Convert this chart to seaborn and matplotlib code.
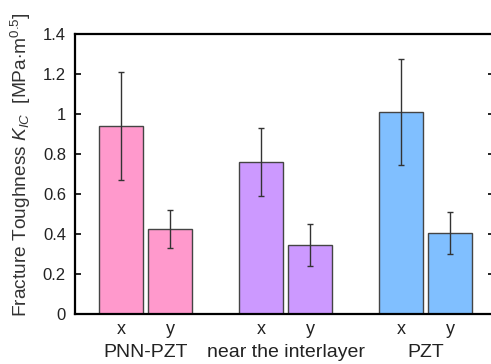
import numpy as np
import pandas as pd
import matplotlib
matplotlib.use("Agg")
import matplotlib.pyplot as plt
import matplotlib.transforms as mtransforms
import seaborn as sns

# Data
groups = ["PNN-PZT", "near the interlayer", "PZT"]
directions = ["x", "y"]
kic_mean = [0.94, 0.425, 0.76, 0.345, 1.01, 0.405]
kic_err = [0.27, 0.095, 0.17, 0.105, 0.265, 0.105]
group_colors = ["#ff99cc", "#cc99ff", "#80bfff"]

# Layout: spacing between group centres, in units of the bar step
group_step = 2.83

rows = []
for gi, g in enumerate(groups):
    for di, d in enumerate(directions):
        rows.append({"group": g, "dir": d, "pos": gi * group_step + di,
                     "kic": kic_mean[gi * 2 + di], "err": kic_err[gi * 2 + di]})
df = pd.DataFrame(rows)

sns.set_style("ticks")
plt.rcParams["font.family"] = ["Liberation Sans", "DejaVu Sans"]
plt.rcParams["mathtext.fontset"] = "custom"
plt.rcParams["mathtext.rm"] = "Liberation Sans"
plt.rcParams["mathtext.it"] = "Liberation Sans:italic"

fig = plt.figure(figsize=(4.91, 3.64), dpi=100)
ax = fig.add_axes([75 / 491, 1 - 314 / 364, 419 / 491, 280 / 364])

sns.barplot(data=df, x="pos", y="kic", hue="group", palette=group_colors,
            native_scale=True, width=0.89, saturation=1, legend=False,
            edgecolor="#444444", linewidth=1.0, ax=ax)
ax.errorbar(df["pos"], df["kic"], yerr=df["err"], fmt="none",
            ecolor="#333333", elinewidth=1.0, capsize=2.3, capthick=1.0)

ax.set_xlim(-0.93, 7.54)
ax.set_ylim(0, 1.4)
ax.set_yticks(np.arange(0, 1.41, 0.2))
ax.set_yticklabels(["0", "0.2", "0.4", "0.6", "0.8", "1", "1.2", "1.4"])
ax.set_xticks(df["pos"])
ax.set_xticklabels(df["dir"])
ax.tick_params(axis="y", direction="in", length=4, width=1.2, labelsize=12,
               pad=6.5, right=True, colors="black", labelcolor="#222222")
ax.tick_params(axis="x", length=0, labelsize=13, pad=5, labelcolor="#222222")
for s in ax.spines.values():
    s.set_linewidth(1.6)
    s.set_color("black")

trans = mtransforms.blended_transform_factory(ax.transData, ax.transAxes)
for gi, g in enumerate(groups):
    ax.text(gi * group_step + 0.5, -0.137, g, transform=trans, ha="center",
            va="center", fontsize=14, color="#222222")

ax.set_xlabel("")
ax.set_ylabel(r"Fracture Toughness $\mathit{K}_{\mathit{IC}}$  [MPa$\cdot$m$^{0.5}$]",
              fontsize=13.8, color="#333333")
ax.yaxis.set_label_coords(-0.10, 0.532)

fig.savefig("out.png", dpi=100)
